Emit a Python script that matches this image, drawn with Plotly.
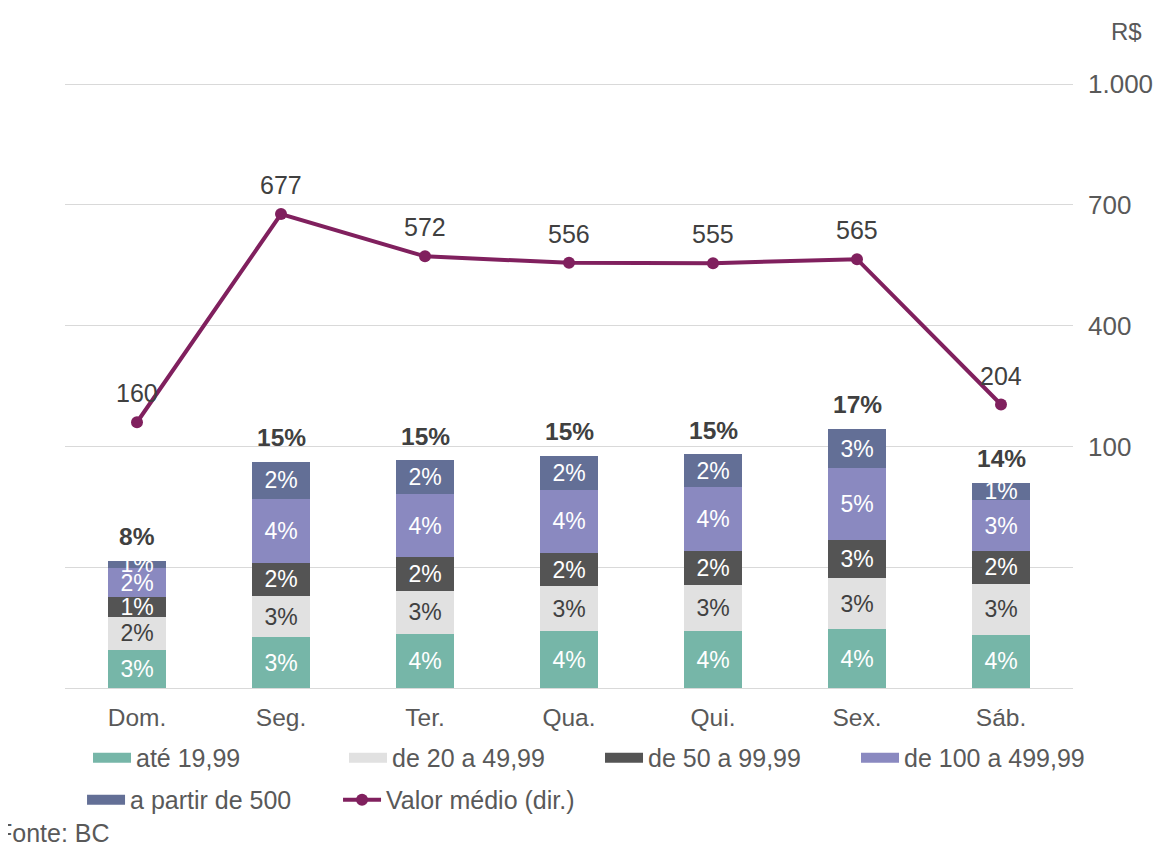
import plotly.graph_objects as go

# Dias da semana
dias = ['Dom.', 'Seg.', 'Ter.', 'Qua.', 'Qui.', 'Sex.', 'Sáb.']

# Participação por faixa de valor (% do total)
ate_19 = [2.52, 3.36, 3.58, 3.75, 3.75, 3.89, 3.53]
de_20_49 = [2.20, 2.75, 2.87, 2.98, 3.08, 3.41, 3.36]
de_50_99 = [1.33, 2.16, 2.21, 2.21, 2.23, 2.52, 2.19]
de_100_499 = [1.87, 4.27, 4.16, 4.20, 4.22, 4.73, 3.34]
a_partir_500 = [0.52, 2.43, 2.25, 2.25, 2.19, 2.61, 1.19]

# Valor médio (R$, eixo direito)
valor_medio = [160, 677, 572, 556, 555, 565, 204]

# Eixo direito
right_ticks = [100, 400, 700, 1000]
right_ticktext = ['100', '400', '700', '1.000']

FONT = 'Liberation Sans, Arial, sans-serif'
TXT = '#404040'
AXIS_TXT = '#595959'
LINE_COLOR = '#80205E'

series = [
    ('até 19,99', ate_19, '#76B6A8', 'white', 'legend'),
    ('de 20 a 49,99', de_20_49, '#E1E1E1', TXT, 'legend'),
    ('de 50 a 99,99', de_50_99, '#545454', 'white', 'legend'),
    ('de 100 a 499,99', de_100_499, '#8A89C0', 'white', 'legend'),
    ('a partir de 500', a_partir_500, '#636F96', 'white', 'legend2'),
]

fig = go.Figure()

for name, vals, color, tcolor, leg in series:
    fig.add_trace(go.Bar(
        x=dias, y=vals, name=name, legendgroup=name, showlegend=False,
        marker=dict(color=color, line=dict(width=0)),
        texttemplate='%{y:.0f}%',
        textposition='inside',
        insidetextanchor='middle',
        textangle=0,
        constraintext='none',
        textfont=dict(family=FONT, size=23, color=tcolor),
        yaxis='y',
    ))
    # legend entry drawn as a wide block like the original
    fig.add_trace(go.Scatter(
        x=[None], y=[None], name=name, legendgroup=name, legend=leg,
        mode='lines', line=dict(color=color, width=12),
    ))

fig.add_trace(go.Scatter(
    x=dias, y=valor_medio, name='Valor médio (dir.)', legend='legend2',
    mode='lines+markers',
    line=dict(color=LINE_COLOR, width=4),
    marker=dict(color=LINE_COLOR, size=12),
    yaxis='y2',
))

# Totais acima das barras
totais = [sum(v) for v in zip(ate_19, de_20_49, de_50_99, de_100_499, a_partir_500)]
for d, t in zip(dias, totais):
    fig.add_annotation(
        x=d, y=t, xref='x', yref='y', text=f'<b>{t:.0f}%</b>',
        showarrow=False, yshift=24,
        font=dict(family=FONT, size=24.5, color=TXT),
    )

# Rótulos do valor médio
for d, v in zip(dias, valor_medio):
    fig.add_annotation(
        x=d, y=v, xref='x', yref='y2', text=str(v),
        showarrow=False, yshift=29,
        font=dict(family=FONT, size=25, color=TXT),
    )

fig.add_annotation(
    x=1.0526, y=1.081, xref='paper', yref='paper', text='R$',
    xanchor='center', yanchor='middle',
    showarrow=False, font=dict(family=FONT, size=24, color=AXIS_TXT),
)
fig.add_annotation(
    x=-0.0694, y=-0.239, xref='paper', yref='paper', text='Fonte: BC',
    xanchor='left', yanchor='middle', showarrow=False,
    font=dict(family=FONT, size=25, color=AXIS_TXT),
)

legend_common = dict(
    orientation='h', yanchor='top',
    entrywidth=203, entrywidthmode='pixels',
    font=dict(family=FONT, size=25, color=AXIS_TXT),
    traceorder='normal', itemwidth=38, bgcolor='rgba(0,0,0,0)',
)

fig.update_layout(
    width=1162, height=844,
    barmode='stack', bargap=0.6,
    plot_bgcolor='white', paper_bgcolor='white',
    margin=dict(l=57, r=97, t=73, b=164),
    font=dict(family=FONT, size=22, color=AXIS_TXT),
    showlegend=True,
    legend=dict(x=1.0387, xanchor='right', y=-0.0773, **legend_common),
    legend2=dict(x=0.0169, xanchor='left', y=-0.1466, **legend_common),
    xaxis=dict(
        showgrid=False, showline=False, ticks='',
        ticklabelstandoff=12,
        tickfont=dict(family=FONT, size=24.5, color=AXIS_TXT),
    ),
    yaxis=dict(
        range=[0, 40.2], dtick=8, showticklabels=False,
        showgrid=True, gridcolor='#D9D9D9', gridwidth=1,
        zeroline=True, zerolinecolor='#D9D9D9', zerolinewidth=1,
        showline=False, ticks='',
    ),
    yaxis2=dict(
        overlaying='y', side='right', range=[-500, 1007.5],
        tickvals=right_ticks, ticktext=right_ticktext,
        showgrid=False, zeroline=False, showline=False, ticks='',
        ticklabelstandoff=14,
        tickfont=dict(family=FONT, size=26, color=AXIS_TXT),
    ),
)

fig.write_html('out.html')
